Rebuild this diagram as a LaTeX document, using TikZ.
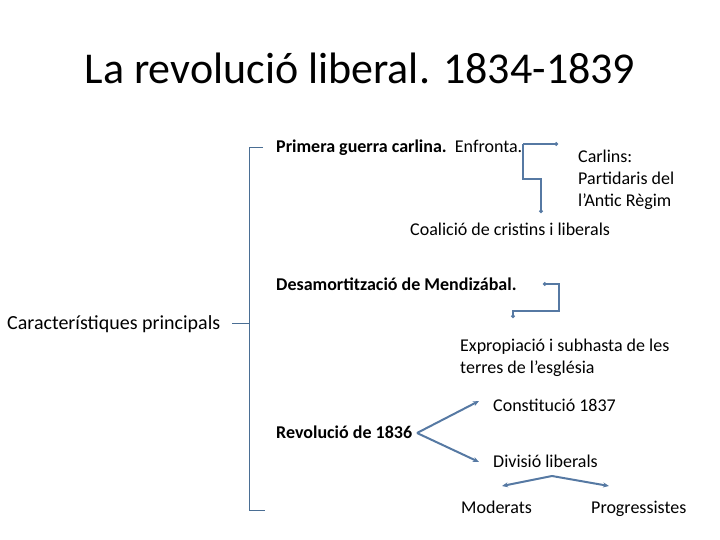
\documentclass[tikz,border=0pt]{standalone}
\usepackage{fontspec}
\setmainfont{Carlito}
\usetikzlibrary{arrows.meta}
\definecolor{lineblue}{HTML}{4A6E94}
\definecolor{connblue}{HTML}{5679A3}
\tikzset{
  txt/.style={anchor=base west, inner sep=0pt, font=\fontsize{18}{22}\selectfont},
  bracket/.style={draw=lineblue, line width=0.9pt},
  conn/.style={draw=connblue, line width=2pt},
  dotend/.style={-{Circle[length=3.5pt]}},
  arr/.style={-{Stealth[length=6pt,width=5pt]}}
}
\begin{document}
\begin{tikzpicture}[x=1pt,y=-1pt]
\useasboundingbox (0,0) rectangle (720,540);
% title
\node[inner sep=0pt, font=\fontsize{44}{52}\selectfont] (title) at (360,68) {La revolució liberal. 1834-1839};
% bracket
\coordinate (btop) at (249,147);
\coordinate (bbot) at (249,510);
\coordinate (bmid) at (249,323);
\draw[bracket] (263,147) -- (btop) -- (bbot) -- (265,510);
\draw[bracket] (bmid) -- (232,323);
\node[txt, font=\fontsize{20}{24}\selectfont] (carac) at (7,329) {Característiques principals};
% primera guerra
\node[txt] (pg) at (276,153) {\textbf{Primera guerra carlina.}\ \ Enfronta.};
\node[txt, align=left] (carlins) at (578,207) {Carlins:\\Partidaris del\\l’Antic Règim};
\node[txt] (coal) at (410,236) {Coalició de cristins i liberals};
\coordinate (c1) at (523,144);
\coordinate (c2) at (558,144);
\coordinate (c3) at (541,213);
\draw[conn, dotend] (c1) -- (c2);
\draw[conn, dotend] (c1) -- (523,179) -- (541,179) -- (c3);
% desamortitzacio
\node[txt] (desa) at (276,290) {\textbf{Desamortització de Mendizábal.}};
\node[txt, align=left] (expro) at (460,373) {Expropiació i subhasta de les\\terres de l’església};
\coordinate (d1) at (543,284);
\coordinate (d2) at (513,318);
\draw[conn, {Circle[length=3.5pt]}-{Circle[length=3.5pt]}] (d1) -- (559,284) -- (559,311) -- (513,311) -- (d2);
% revolucio
\node[txt] (rev) at (276,438) {\textbf{Revolució de 1836}};
\node[txt] (const) at (493,411) {Constitució 1837};
\node[txt] (div) at (493,467) {Divisió liberals};
\coordinate (r0) at (417,433);
\coordinate (r1) at (479,401);
\coordinate (r2) at (479,462);
\draw[conn, arr] (r0) -- (r1);
\draw[conn, arr] (r0) -- (r2);
\node[txt] (mod) at (461,513) {Moderats};
\node[txt] (prog) at (591,513) {Progressistes};
\coordinate (v0) at (552,476);
\coordinate (v1) at (502,486);
\coordinate (v2) at (609,486);
\draw[conn, arr] (v0) -- (v1);
\draw[conn, arr] (v0) -- (v2);
\end{tikzpicture}
\end{document}
